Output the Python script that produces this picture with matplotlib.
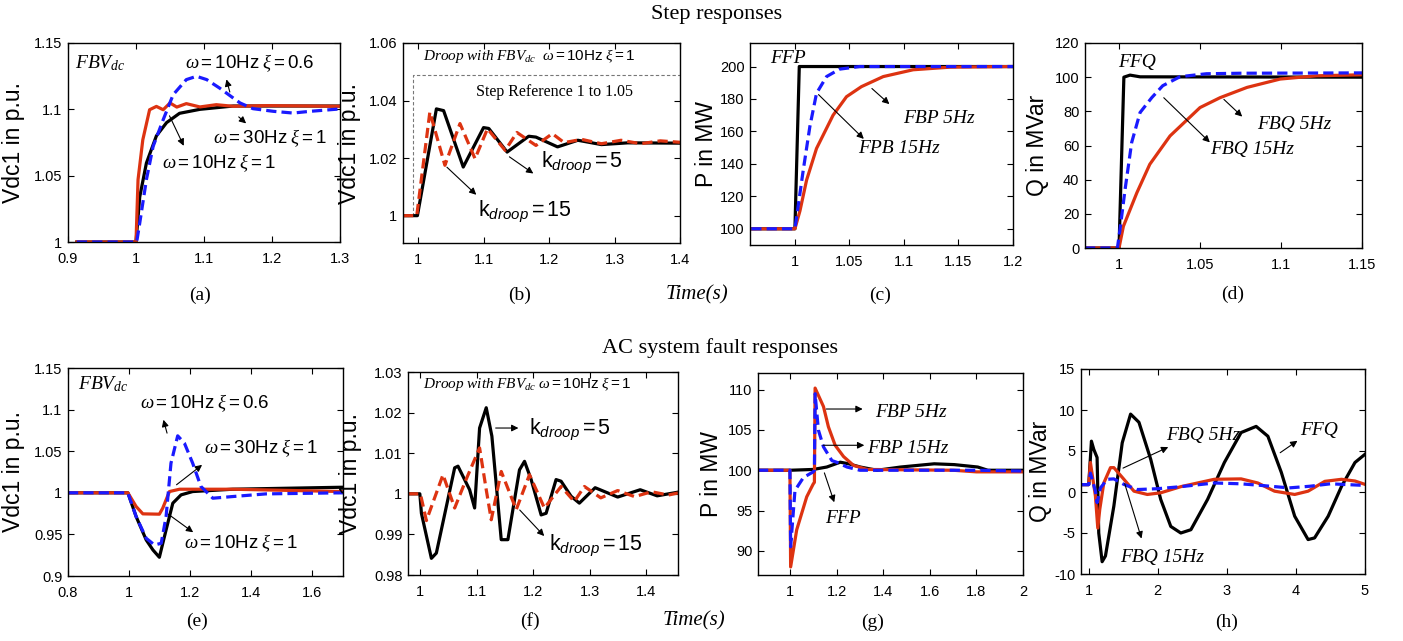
import matplotlib
matplotlib.use('Agg')
import matplotlib.pyplot as plt
from matplotlib.ticker import FuncFormatter

# ---- data --------------------------------------------------------------
# (a) step, FBVdc
a_k_t = [0.913, 1.0, 1.0055, 1.0153, 1.03, 1.045, 1.064, 1.094, 1.143, 1.3]
a_k_v = [1.0, 1.0, 1.034, 1.0595, 1.08, 1.09, 1.097, 1.100, 1.1025, 1.1025]
a_r_t = [0.913, 1.0, 1.003, 1.01, 1.02, 1.03, 1.04, 1.05, 1.06, 1.074, 1.094, 1.118, 1.143, 1.192, 1.3]
a_r_v = [1.0, 1.0, 1.047, 1.077, 1.0997, 1.1022, 1.0997, 1.1048, 1.1017, 1.1043, 1.1018, 1.1035, 1.1023, 1.1028, 1.1023]
a_b_t = [0.913, 1.001, 1.0055, 1.0153, 1.0252, 1.04, 1.0546, 1.074, 1.089, 1.104, 1.123, 1.153, 1.172, 1.202, 1.231, 1.256, 1.3]
a_b_v = [1.0, 1.0, 1.0143, 1.047, 1.0721, 1.0922, 1.111, 1.1224, 1.1249, 1.1224, 1.116, 1.1048, 1.1005, 1.0985, 1.0972, 1.0985, 1.1003]

# (b) step, droop
b_k_t = [0.977, 0.999, 1.028, 1.039, 1.069, 1.1, 1.108, 1.136, 1.169, 1.18, 1.213, 1.244, 1.28, 1.32, 1.4]
b_k_v = [1.0, 1.0, 1.0371, 1.0365, 1.0169, 1.0306, 1.0303, 1.0221, 1.0276, 1.0273, 1.0239, 1.0262, 1.0247, 1.0253, 1.0252]
b_r_t = [0.977, 0.998, 1.018, 1.041, 1.064, 1.087, 1.106, 1.133, 1.151, 1.18, 1.205, 1.223, 1.25, 1.28, 1.31, 1.34, 1.37, 1.4]
b_r_v = [1.0, 1.0, 1.036, 1.0175, 1.032, 1.0198, 1.0302, 1.0227, 1.0289, 1.0244, 1.0285, 1.0254, 1.0265, 1.025, 1.0262, 1.025, 1.026, 1.0255]
b_ref_t = [0.993, 0.993, 1.4]
b_ref_v = [1.0, 1.049, 1.049]

# (c) step, P
c_k_t = [0.96, 1.0, 1.004, 1.2]
c_k_v = [100, 100, 200, 200]
c_b_t = [0.96, 1.0, 1.0015, 1.0076, 1.0137, 1.0198, 1.029, 1.041, 1.0595, 1.2]
c_b_v = [100, 100, 107, 136, 163, 183.5, 193.8, 198.4, 200, 200]
c_r_t = [0.96, 1.0, 1.0046, 1.0107, 1.0198, 1.035, 1.0473, 1.061, 1.081, 1.1084, 1.142, 1.2]
c_r_v = [100, 100, 111, 130, 149.5, 170, 181.4, 187.6, 193.8, 198, 199.6, 200]

# (d) step, Q
d_k_t = [0.979, 1.0, 1.003, 1.0068, 1.013, 1.15]
d_k_v = [0, 0, 100, 101.2, 100.2, 100]
d_b_t = [0.979, 0.999, 1.0006, 1.0037, 1.0078, 1.013, 1.0202, 1.027, 1.0377, 1.054, 1.075, 1.15]
d_b_v = [0, 0, 10.8, 34, 61.7, 79.3, 88, 95, 100.3, 102, 102.3, 102.5]
d_r_t = [0.979, 1.0, 1.0027, 1.011, 1.019, 1.0315, 1.05, 1.0624, 1.079, 1.0995, 1.122, 1.15]
d_r_v = [0, 0, 12.7, 32.3, 49, 65.6, 82.2, 88, 94, 98.9, 100.8, 101.4]

# (e) fault, FBVdc
e_k_t = [0.8, 0.996, 1.023, 1.056, 1.078, 1.099, 1.121, 1.143, 1.17, 1.208, 1.339, 1.7]
e_k_v = [1.0, 1.0, 0.9714, 0.9433, 0.9313, 0.9225, 0.9554, 0.9875, 0.9975, 1.0015, 1.0043, 1.0067]
e_r_t = [0.8, 0.996, 1.023, 1.045, 1.099, 1.11, 1.132, 1.165, 1.339, 1.7]
e_r_v = [1.0, 1.0, 0.9835, 0.9747, 0.9743, 0.9815, 1.0015, 1.0043, 1.0043, 1.0015]
e_b_t = [0.8, 0.996, 1.023, 1.056, 1.083, 1.105, 1.121, 1.137, 1.159, 1.181, 1.208, 1.235, 1.274, 1.339, 1.448, 1.7]
e_b_v = [1.0, 1.0, 0.9714, 0.9453, 0.9373, 0.9393, 0.9714, 1.0356, 1.0685, 1.0597, 1.0356, 1.0076, 0.9935, 0.9955, 0.9987, 1.0]

# (f) fault, droop
f_k_t = [0.978, 0.999, 1.0018, 1.0195, 1.0283, 1.0608, 1.0667, 1.0873, 1.0962, 1.105, 1.1168, 1.1268,
         1.1434, 1.1552, 1.1758, 1.1847, 1.1965, 1.2142, 1.223, 1.2407, 1.2496, 1.2673, 1.282, 1.31,
         1.35, 1.39, 1.42, 1.457]
f_k_v = [1.0, 1.0, 0.9952, 0.9841, 0.9854, 1.0064, 1.0068, 1.001, 0.9965, 1.0162, 1.0212, 1.0142,
         0.9887, 0.9887, 1.0059, 1.008, 1.0035, 0.9948, 0.9952, 1.0035, 1.0031, 0.9994, 0.9977, 1.0015,
         0.9992, 1.001, 0.9995, 1.0004]
f_r_t = [0.978, 1.0, 1.0106, 1.0401, 1.0608, 1.081, 1.105, 1.1168, 1.1257, 1.1434, 1.17, 1.1935, 1.22,
         1.2496, 1.273, 1.291, 1.32, 1.35, 1.38, 1.41, 1.44, 1.457]
f_r_v = [1.0, 1.0, 0.9934, 1.0047, 0.9965, 1.0035, 1.0113, 1.001, 0.9936, 1.0055, 0.9961, 1.0047, 0.9965,
         1.0018, 0.9981, 1.0018, 0.999, 1.0008, 0.9993, 1.0005, 0.9997, 1.0002]

# (g) fault, P
g_k_t = [0.863, 1.0, 1.1, 1.158, 1.216, 1.252, 1.302, 1.374, 1.475, 1.619, 1.705, 1.806, 1.849, 2.0]
g_k_v = [100, 100, 100.1, 100.4, 101.0, 100.8, 100.4, 100, 100.4, 100.8, 100.7, 100.4, 100, 100]
g_b_t = [0.863, 1.0, 1.003, 1.0216, 1.058, 1.1, 1.105, 1.108, 1.122, 1.144, 1.18, 1.2, 1.245, 1.3, 1.8, 2.0]
g_b_v = [100, 100, 90.5, 97.5, 99.1, 99.8, 100, 109.5, 105, 102.9, 101.2, 101.0, 100.4, 100, 100, 99.9]
g_r_t = [0.863, 1.0, 1.003, 1.029, 1.072, 1.1, 1.105, 1.108, 1.144, 1.165, 1.194, 1.23, 1.273, 1.331, 1.7, 1.8, 2.0]
g_r_v = [100, 100, 88.0, 92.6, 96.7, 98.3, 98.5, 110.2, 107.9, 105.4, 103.1, 101.7, 100.6, 100.1, 100, 99.8, 99.8]

# (h) fault, Q
h_k_t = [0.89, 1.0, 1.039, 1.073, 1.121, 1.145, 1.194, 1.242, 1.364, 1.485, 1.606, 1.727, 1.897, 2.042,
         2.188, 2.333, 2.479, 2.721, 2.964, 3.206, 3.424, 3.594, 3.788, 3.982, 4.176, 4.27, 4.467, 4.661,
         4.855, 5.0]
h_k_v = [0.9, 0.9, 6.2, 5.2, 4.2, -5.0, -8.5, -7.8, -1.7, 6.0, 9.5, 8.5, 4.0, -0.9, -4.2, -5.0, -4.6,
         -0.9, 3.6, 7.25, 8.0, 6.8, 2.4, -2.95, -5.8, -5.6, -2.95, 0.7, 3.6, 4.6]
h_r_t = [0.89, 1.0, 1.024, 1.097, 1.131, 1.16, 1.218, 1.315, 1.364, 1.509, 1.655, 1.848, 2.042, 2.333,
         2.818, 3.206, 3.448, 3.69, 3.982, 4.176, 4.418, 4.661, 4.855, 5.0]
h_r_v = [0.9, 0.9, 3.6, -0.5, -4.4, -2.1, 1.1, 2.97, 2.97, 1.55, 0.1, -0.3, -0.1, 0.65, 1.55, 1.6, 1.1,
         0.1, -0.3, 0.1, 1.3, 1.55, 1.34, 0.93]
h_b_t = [0.89, 1.0, 1.024, 1.097, 1.121, 1.17, 1.267, 1.364, 1.509, 1.703, 1.994, 2.333, 2.818, 3.2, 3.5,
         3.9, 4.2, 4.5, 5.0]
h_b_v = [0.9, 0.9, 2.3, 0.1, -1.3, 0.5, 1.55, 1.6, 0.93, 0.3, 0.4, 0.65, 1.1, 1.0, 0.8, 0.5, 0.7, 1.0, 0.8]

# ---- style -----------------------------------------------------------------
W, H = 1403, 641
RED = '#dd3311'
BLUE = '#1a1aff'
SERIF = 'Liberation Serif'
SANS = 'Liberation Sans'
plt.rcParams['font.family'] = SANS
plt.rcParams['mathtext.fontset'] = 'custom'
plt.rcParams['mathtext.rm'] = SANS
plt.rcParams['mathtext.it'] = SERIF + ':italic'
plt.rcParams['mathtext.sf'] = SANS + ':italic'

fig = plt.figure(figsize=(W / 100, H / 100), dpi=100)


def make_ax(l, t, r, b, xlim, ylim, xt, yt, ylabel, ylab_px):
    # ylab_px: pixel x of the right edge of the rotated y label
    ax = fig.add_axes([l / W, 1 - b / H, (r - l) / W, (b - t) / H])
    ax.set_xlim(*xlim)
    ax.set_ylim(*ylim)
    ax.set_xticks(xt)
    ax.set_yticks(yt)
    fmt = FuncFormatter(lambda v, p: f'{v:g}')
    ax.xaxis.set_major_formatter(fmt)
    ax.yaxis.set_major_formatter(fmt)
    ax.tick_params(direction='in', top=True, right=True, length=4, width=0.8, labelsize=10.5)
    ax.tick_params(axis='x', pad=7)
    ax.tick_params(axis='y', pad=4)
    for s in ax.spines.values():
        s.set_linewidth(1.0)
    ax.set_ylabel(ylabel, fontsize=16.5)
    ax.yaxis.set_label_coords((ylab_px - l) / (r - l), 0.5)
    return ax


def line(ax, t, v, color, dashed=False, lw=2.3):
    if dashed:
        ax.plot(t, v, color=color, lw=lw, ls=(0, (3.2, 1.6)))
    else:
        ax.plot(t, v, color=color, lw=lw)


def arrow(ax, tail, head):
    ax.annotate('', xy=head, xytext=tail,
                arrowprops=dict(arrowstyle='-|>', color='k', lw=0.8, mutation_scale=10))


def lbl(ax, x, y, s, size=14, serif_it=False):
    if serif_it:
        ax.text(x, y, s, fontsize=size, family=SERIF, style='italic', va='center', ha='left')
    else:
        ax.text(x, y, s, fontsize=size, va='center', ha='left')


FBV = r'$\mathit{FBV}_{\mathit{dc}}$'
VDC = 'Vdc1 in p.u.'

# (a)
ax = make_ax(68, 43, 340, 242, (0.9, 1.3), (1.0, 1.15), [0.9, 1.0, 1.1, 1.2, 1.3],
             [1.0, 1.05, 1.1, 1.15], VDC, 25)
line(ax, a_k_t, a_k_v, 'k')
line(ax, a_r_t, a_r_v, RED)
line(ax, a_b_t, a_b_v, BLUE, dashed=True)
lbl(ax, 0.911, 1.135, FBV, 14)
lbl(ax, 1.072, 1.1347, r'$\omega = \mathrm{10Hz}\ \xi = \mathrm{0.6}$', 13.5)
arrow(ax, (1.139, 1.111), (1.132, 1.1246))
lbl(ax, 1.113, 1.078, r'$\omega = \mathrm{30Hz}\ \xi = \mathrm{1}$', 13.5)
arrow(ax, (1.148, 1.0957), (1.165, 1.088))
lbl(ax, 1.038, 1.0595, r'$\omega = \mathrm{10Hz}\ \xi = \mathrm{1}$', 13.5)
arrow(ax, (1.0475, 1.097), (1.072, 1.0706))

# (b)
ax = make_ax(403, 43, 680, 243, (0.977, 1.4), (0.9905, 1.06), [1.0, 1.1, 1.2, 1.3, 1.4],
             [1.0, 1.02, 1.04, 1.06], VDC, 361)
ax.plot(b_ref_t, b_ref_v, color='#777777', lw=0.8, ls=(0, (3, 2)))
line(ax, b_k_t, b_k_v, 'k')
line(ax, b_r_t, b_r_v, RED, dashed=True)
lbl(ax, 1.007, 1.0556, r'$\mathit{Droop\ with\ FBV}_{\mathit{dc}}\ \ \omega = \mathrm{10Hz}\ \xi = \mathrm{1}$', 11)
ax.text(1.2077, 1.0429, 'Step Reference 1 to 1.05', family=SERIF, fontsize=11.5, ha='center', va='center')
lbl(ax, 1.187, 1.0187, r'$\mathrm{k}_{\mathsf{droop}} = \mathrm{5}$', 15.5)
arrow(ax, (1.136, 1.021), (1.1795, 1.0141))
lbl(ax, 1.092, 1.0014, r'$\mathrm{k}_{\mathsf{droop}} = \mathrm{15}$', 15.5)
arrow(ax, (1.041, 1.0175), (1.092, 1.0066))

# (c)
ax = make_ax(750, 43, 1013, 245, (0.9588, 1.2), (90, 214.5), [1.0, 1.05, 1.1, 1.15, 1.2],
             [100, 120, 140, 160, 180, 200], 'P in MW', 718)
line(ax, c_k_t, c_k_v, 'k')
line(ax, c_r_t, c_r_v, RED)
line(ax, c_b_t, c_b_v, BLUE, dashed=True)
lbl(ax, 0.977, 205, 'FFP', 14, True)
lbl(ax, 1.0992, 168, 'FBP 5Hz', 14, True)
arrow(ax, (1.0687, 187.6), (1.0885, 175.7))
lbl(ax, 1.058, 149.5, 'FPB 15Hz', 14, True)
arrow(ax, (1.0198, 183.9), (1.065, 154.2))

# (d)
ax = make_ax(1085, 43, 1362, 248, (0.979, 1.15), (0, 120), [1.0, 1.05, 1.1, 1.15],
             [0, 20, 40, 60, 80, 100, 120], 'Q in MVar', 1049)
line(ax, d_k_t, d_k_v, 'k')
line(ax, d_r_t, d_r_v, RED)
line(ax, d_b_t, d_b_v, BLUE, dashed=True)
lbl(ax, 0.9996, 108.5, 'FFQ', 14, True)
lbl(ax, 1.085, 72.4, 'FBQ 5Hz', 14, True)
arrow(ax, (1.0635, 88.1), (1.0773, 75.8))
lbl(ax, 1.056, 57.7, 'FBQ 15Hz', 14, True)
arrow(ax, (1.0264, 89.1), (1.0573, 60.7))

# (e)
ax = make_ax(68, 368, 343, 576, (0.8, 1.7), (0.9, 1.15), [0.8, 1.0, 1.2, 1.4, 1.6],
             [0.9, 0.95, 1.0, 1.05, 1.1, 1.15], VDC, 25)
line(ax, e_k_t, e_k_v, 'k')
line(ax, e_r_t, e_r_v, RED)
line(ax, e_b_t, e_b_v, BLUE, dashed=True)
lbl(ax, 0.833, 1.13, FBV, 14)
lbl(ax, 1.034, 1.108, r'$\omega = \mathrm{10Hz}\ \xi = \mathrm{0.6}$', 13.5)
arrow(ax, (1.1265, 1.0685), (1.110, 1.091))
lbl(ax, 1.246, 1.0537, r'$\omega = \mathrm{30Hz}\ \xi = \mathrm{1}$', 13.5)
arrow(ax, (1.148, 1.0076), (1.246, 1.0356))
lbl(ax, 1.181, 0.9393, r'$\omega = \mathrm{10Hz}\ \xi = \mathrm{1}$', 13.5)
arrow(ax, (1.121, 0.9762), (1.217, 0.9506))

# (f)
ax = make_ax(408, 372, 678, 575, (0.978, 1.457), (0.98, 1.03), [1.0, 1.1, 1.2, 1.3, 1.4],
             [0.98, 0.99, 1.0, 1.01, 1.02, 1.03], VDC, 362)
line(ax, f_k_t, f_k_v, 'k')
line(ax, f_r_t, f_r_v, RED, dashed=True)
lbl(ax, 1.005, 1.027, r'$\mathit{Droop\ with\ FBV}_{\mathit{dc}}\ \omega = \mathrm{10Hz}\ \xi = \mathrm{1}$', 11)
lbl(ax, 1.1935, 1.0158, r'$\mathrm{k}_{\mathsf{droop}} = \mathrm{5}$', 15.5)
arrow(ax, (1.1286, 1.0162), (1.1788, 1.0162))
lbl(ax, 1.229, 0.9874, r'$\mathrm{k}_{\mathsf{droop}} = \mathrm{15}$', 15.5)
arrow(ax, (1.1729, 0.9965), (1.223, 0.9891))

# (g)
ax = make_ax(758, 373, 1023, 575, (0.863, 2.0), (87, 112.07), [1.0, 1.2, 1.4, 1.6, 1.8, 2.0],
             [90, 95, 100, 105, 110], 'P in MW', 723)
line(ax, g_k_t, g_k_v, 'k')
line(ax, g_r_t, g_r_v, RED)
line(ax, g_b_t, g_b_v, BLUE, dashed=True)
lbl(ax, 1.367, 107.2, 'FBP 5Hz', 14, True)
arrow(ax, (1.144, 107.6), (1.324, 107.6))
lbl(ax, 1.331, 102.7, 'FBP 15Hz', 14, True)
arrow(ax, (1.13, 103.1), (1.331, 103.1))
lbl(ax, 1.151, 94.0, 'FFP', 14, True)
arrow(ax, (1.144, 100), (1.194, 95.7))

# (h)
ax = make_ax(1081, 369, 1365, 574, (0.888, 5.0), (-10, 15), [1, 2, 3, 4, 5],
             [-10, -5, 0, 5, 10, 15], 'Q in MVar', 1052)
line(ax, h_k_t, h_k_v, 'k')
line(ax, h_r_t, h_r_v, RED)
line(ax, h_b_t, h_b_v, BLUE, dashed=True)
lbl(ax, 2.115, 6.84, 'FBQ 5Hz', 14, True)
arrow(ax, (1.46, 2.77), (2.188, 5.62))
lbl(ax, 4.055, 7.45, 'FFQ', 14, True)
arrow(ax, (3.739, 4.6), (4.055, 6.44))
lbl(ax, 1.46, -8.04, 'FBQ 15Hz', 14, True)
arrow(ax, (1.509, 1.34), (1.776, -6.0))

# ---- figure texts ----------------------------------------------------------
def ftext(x, y, s, size, **kw):
    fig.text(x / W, 1 - y / H, s, fontsize=size, family=SERIF, ha='center', va='center', **kw)


ftext(717, 14, 'Step responses', 16)
ftext(720, 348, 'AC system fault responses', 16)
for x, y, s in [(200, 295, '(a)'), (520, 295, '(b)'), (880, 295, '(c)'), (1233, 294, '(d)'),
                (197, 621, '(e)'), (530, 621, '(f)'), (873, 622, '(g)'), (1227, 622, '(h)')]:
    ftext(x, y, s, 14)
ftext(697, 295, 'Time(s)', 15, style='italic')
ftext(694, 621, 'Time(s)', 15, style='italic')

fig.savefig('out.png', dpi=100)
